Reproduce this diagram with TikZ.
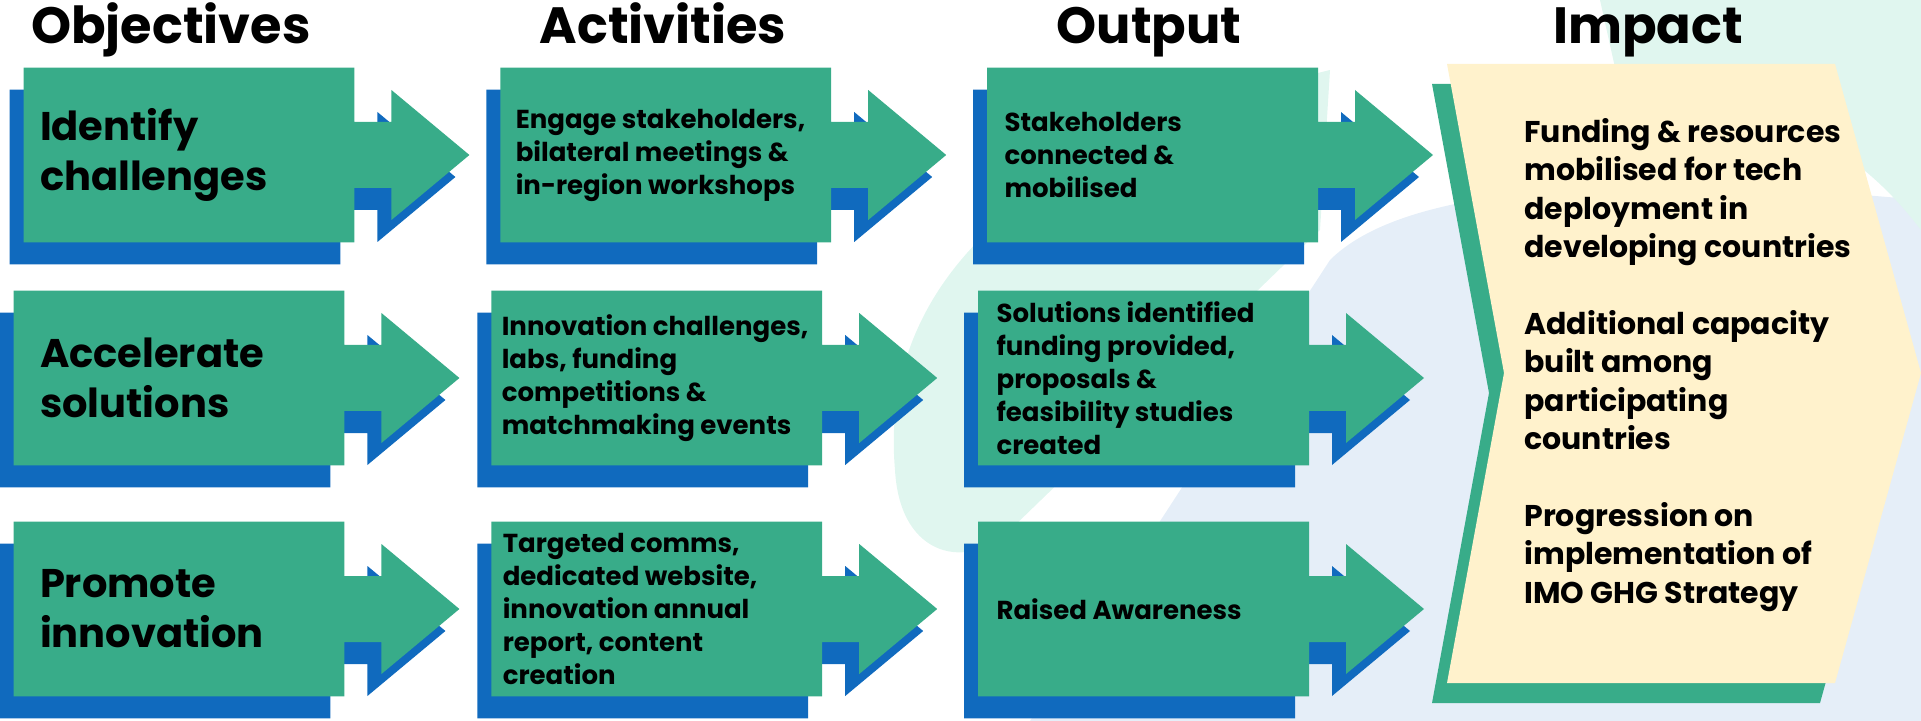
\documentclass[tikz,border=0pt]{standalone}
\usepackage{fontspec}
\setmainfont{Poppins}
\usepackage{tikz}
\usetikzlibrary{positioning,backgrounds}
\definecolor{boxgreen}{RGB}{56,172,137}
\definecolor{shadowblue}{RGB}{16,106,190}
\definecolor{cream}{RGB}{255,242,204}
\definecolor{bgmint}{RGB}{224,246,239}
\definecolor{bgblue}{RGB}{229,238,248}
\pgfdeclarelayer{decor}
\pgfsetlayers{decor,background,main}
% box with its block arrow, built on the anchors of a cell node
\newcommand{\blockpath}[1]{(#1.north west) -- (#1.north east)
  -- ([shift={(0,-33)}]#1.east) -- ([shift={(37,-33)}]#1.east)
  -- ([shift={(37,-65)}]#1.east) -- ([shift={(115,0)}]#1.east)
  -- ([shift={(37,65)}]#1.east) -- ([shift={(37,33)}]#1.east)
  -- ([shift={(0,33)}]#1.east) -- (#1.south east) -- (#1.south west) -- cycle}

\begin{document}
\begin{tikzpicture}[x=0.5pt,y=-0.5pt,
    cell/.style={minimum width=165pt,minimum height=87pt,inner sep=0pt},
    celltext/.style={align=left,inner sep=0pt,font=\bfseries\fontsize{13}{16.5}\selectfont},
    objtext/.style={align=left,inner sep=0pt,font=\bfseries\fontsize{20}{25}\selectfont},
    impacttext/.style={align=left,inner sep=0pt,font=\bfseries\fontsize{15}{19.2}\selectfont},
    header/.style={anchor=base,inner sep=0pt,font=\bfseries\fontsize{25.5}{30}\selectfont},
    shadowed/.style={preaction={fill=shadowblue,transform canvas={xshift=-7pt,yshift=-11pt}}}]
  \useasboundingbox (0,0) rectangle (1921,721);
  \clip (0,0) rectangle (1921,721);

  % column headers
  \node[header] (hobj) at (171,44) {Objectives};
  \node[header] (hact) at (663,44) {Activities};
  \node[header] (hout) at (1149,44) {Output};
  \node[header] (himp) at (1648,44) {Impact};

  % cells
  \node[cell] (obj1) at (189,155) {};
  \node[cell, right=73pt of obj1] (act1) {};
  \node[cell, right=78pt of act1] (out1) {};
  \node[cell] (obj2) at (179,378) {};
  \node[cell, right=73.5pt of obj2] (act2) {};
  \node[cell, right=78pt of act2] (out2) {};
  \node[cell] (obj3) at (179,609) {};
  \node[cell, right=73.5pt of obj3] (act3) {};
  \node[cell, right=78pt of act3] (out3) {};

  \node[objtext, right=8pt of obj1.west] (obj1t) {Identify\\challenges};
  \node[objtext, right=13pt of obj2.west] (obj2t) {Accelerate\\solutions};
  \node[objtext, right=13pt of obj3.west] (obj3t) {Promote\\innovation};

  \node[celltext, right=7.5pt of act1.west] (act1t) {Engage stakeholders,\\bilateral meetings \&\\in-region workshops};
  \node[celltext, right=5pt of act2.west] (act2t) {Innovation challenges,\\labs, funding\\competitions \&\\matchmaking events};
  \node[celltext, right=5.5pt of act3.west] (act3t) {Targeted comms,\\dedicated website,\\innovation annual\\report, content\\creation};

  \node[celltext, right=8.5pt of out1.west] (out1t) {Stakeholders\\connected \&\\mobilised};
  \node[celltext, right=9pt of out2.west] (out2t) {Solutions identified\\funding provided,\\proposals \&\\feasibility studies\\created};
  \node[celltext, right=9pt of out3.west] (out3t) {Raised Awareness};

  \node[impacttext, anchor=west] (impact) at (1524,365) {Funding \& resources\\mobilised for tech\\deployment in\\developing countries\\[19.2pt]Additional capacity\\built among\\participating\\countries\\[19.2pt]Progression on\\implementation of\\IMO GHG Strategy};

  \begin{scope}[on background layer]
    \foreach \n in {obj1,act1,out1,obj2,act2,out2,obj3,act3,out3}
      \fill[boxgreen, shadowed] \blockpath{\n};
    % impact chevron
    \fill[cream, preaction={fill=boxgreen,transform canvas={xshift=-7.5pt,yshift=-10pt}}]
      (1447,64) -- (1835,64) -- (1921,373) -- (1835,683) -- (1447,683) -- (1504,373) -- cycle;
  \end{scope}

  \begin{pgfonlayer}{decor}
    \fill[bgblue] (1030,721) -- (1330,260) .. controls (1400,190) and (1600,170) .. (1921,200) -- (1921,721) -- cycle;
    \fill[bgmint] (895,470) .. controls (880,300) and (1000,170) .. (1250,90) -- (1330,70) -- (1320,230) -- (1010,530) .. controls (970,570) and (900,560) .. (895,470) -- cycle;
    \fill[bgmint] (1600,0) -- (1921,0) -- (1921,230) .. controls (1860,150) and (1780,100) .. (1620,90) -- cycle;
  \end{pgfonlayer}
\end{tikzpicture}
\end{document}
